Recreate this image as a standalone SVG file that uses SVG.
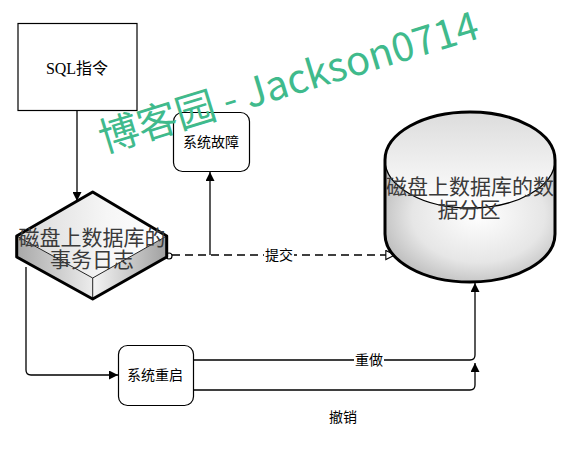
<svg xmlns="http://www.w3.org/2000/svg" width="577" height="449" viewBox="0 0 577 449">
<defs>
<style>
.lbl{font-family:"Noto Sans CJK SC","Liberation Sans",sans-serif;font-size:14px;fill:#000;text-anchor:middle;dominant-baseline:central}
.big{font-family:"Noto Sans CJK SC","Liberation Sans",sans-serif;font-size:21px;fill:#3a3a3a;text-anchor:middle;dominant-baseline:central}
.conn{fill:none;stroke:#000;stroke-width:1.3}
.dash{fill:none;stroke:#000;stroke-width:1.3;stroke-dasharray:8 5}
.wm{font-family:"Noto Sans CJK SC","Liberation Sans",sans-serif;font-size:40px;fill:#40BA8C}
</style>
<marker id="arr" viewBox="0 0 10 10" refX="10" refY="5" markerWidth="9" markerHeight="9" markerUnits="userSpaceOnUse" orient="auto">
<path d="M0,0 L10,5 L0,10 z" fill="#000"/>
</marker>
<marker id="open" viewBox="0 0 12 12" refX="11" refY="6" markerWidth="11" markerHeight="11" markerUnits="userSpaceOnUse" orient="auto">
<path d="M1,1 L11,6 L1,11 z" fill="#fff" stroke="#000" stroke-width="1.2"/>
</marker>
<linearGradient id="topFace" x1="0" y1="0" x2="1" y2="0">
<stop offset="0" stop-color="#d8d8d8"/>
<stop offset="0.6" stop-color="#f6f6f6"/>
<stop offset="1" stop-color="#ffffff"/>
</linearGradient>
<linearGradient id="leftFace" x1="0" y1="0" x2="1" y2="0">
<stop offset="0" stop-color="#a8a8a8"/>
<stop offset="1" stop-color="#ececec"/>
</linearGradient>
<linearGradient id="rightFace" x1="0" y1="0" x2="1" y2="0">
<stop offset="0" stop-color="#f4f4f4"/>
<stop offset="1" stop-color="#a0a0a0"/>
</linearGradient>
<radialGradient id="cylBody" cx="0.55" cy="0.45" r="0.65">
<stop offset="0" stop-color="#ffffff"/>
<stop offset="0.6" stop-color="#e6e6e6"/>
<stop offset="1" stop-color="#b4b4b4"/>
</radialGradient>
<linearGradient id="cylTop" x1="0" y1="0" x2="0" y2="1">
<stop offset="0" stop-color="#dcdcdc"/>
<stop offset="1" stop-color="#ffffff"/>
</linearGradient>
</defs>
<rect width="577" height="449" fill="#fff"/>

<g id="connectors">
<line class="conn" x1="77" y1="111" x2="77" y2="201" marker-end="url(#arr)"/>
<line class="conn" x1="210" y1="255" x2="210" y2="172" marker-end="url(#arr)"/>
<line class="dash" x1="172" y1="255" x2="395" y2="255" marker-end="url(#open)"/>
<circle cx="169" cy="256" r="3" fill="#fff" stroke="#000" stroke-width="1.2"/>
<path class="conn" d="M26,267 V370 Q26,375 31,375 H118" marker-end="url(#arr)"/>
<path class="conn" d="M193,360 H470 Q475,360 475,355 V283" marker-end="url(#arr)"/>
<path class="conn" d="M193,390 H470 Q475,390 475,385 V363" marker-end="url(#arr)"/>
<rect x="264" y="246" width="30" height="18" fill="#fff"/>
<text class="lbl" x="279" y="254">提交</text>
<rect x="354" y="351" width="30" height="18" fill="#fff"/>
<text class="lbl" x="369" y="359">重做</text>
<text class="lbl" x="343" y="416">撤销</text>
</g>

<g id="sql">
<rect x="18" y="23.5" width="119" height="87" fill="#fff" stroke="#000" stroke-width="1.2"/>
<text x="77" y="68" font-family="'Liberation Serif','Noto Sans CJK SC',serif" font-size="16" text-anchor="middle" dominant-baseline="central">SQL指令</text>
</g>

<g id="fault">
<rect x="173.5" y="112.5" width="76" height="59" rx="9" fill="#fff" stroke="#000" stroke-width="1.2"/>
<text class="lbl" x="211" y="141">系统故障</text>
</g>

<g id="log">
<polygon points="16.7,236 92.7,278 92.7,299 16.7,257" fill="url(#leftFace)"/>
<polygon points="92.7,278 166.7,236 166.7,257 92.7,299" fill="url(#rightFace)"/>
<polygon points="92.7,192 166.7,236 92.7,278 16.7,236" fill="url(#topFace)"/>
<polyline points="16.7,236 92.7,278 166.7,236" fill="none" stroke="#222" stroke-width="1"/>
<line x1="92.7" y1="278" x2="92.7" y2="299" stroke="#222" stroke-width="1"/>
<polygon points="92.7,192 166.7,236 166.7,257 92.7,299 16.7,257 16.7,236" fill="none" stroke="#000" stroke-width="3" stroke-linejoin="round"/>
<text class="big" x="92" y="236">磁盘上数据库的</text>
<text class="big" x="92" y="258">事务日志</text>
</g>

<g id="restart">
<rect x="118.5" y="345.5" width="75" height="60" rx="9" fill="#fff" stroke="#000" stroke-width="1.2"/>
<text class="lbl" x="155" y="374">系统重启</text>
</g>

<g id="partition">
<path d="M385,160 V234 A85,48 0 0 0 555,234 V160 Z" fill="url(#cylBody)"/>
<ellipse cx="470" cy="160" rx="85" ry="48" fill="url(#cylTop)"/>
<path d="M385,160 A85,48 0 0 0 555,160" fill="none" stroke="#000" stroke-width="1.3"/>
<path d="M385,160 A85,48 0 0 1 555,160 V234 A85,48 0 0 1 385,234 Z" fill="none" stroke="#000" stroke-width="3"/>
<text class="big" x="470" y="185">磁盘上数据库的数</text>
<text class="big" x="469" y="208">据分区</text>
</g>

<text class="wm" x="104" y="153" transform="rotate(-17 104 153)">博客园 - Jackson0714</text>
</svg>
